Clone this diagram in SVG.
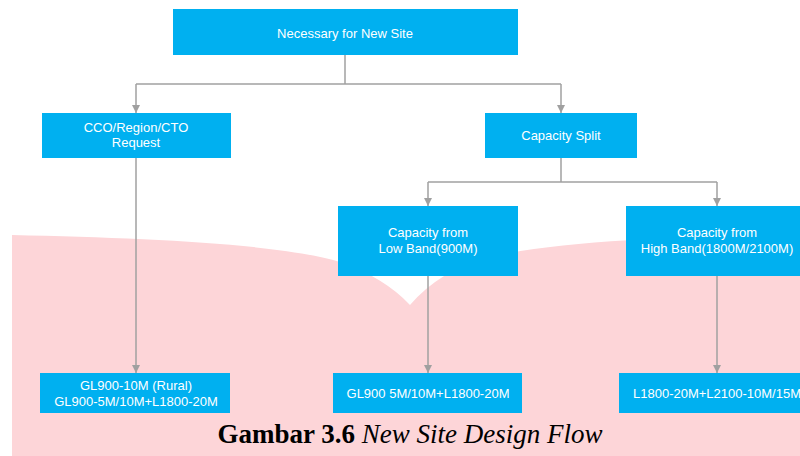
<svg xmlns="http://www.w3.org/2000/svg" width="800" height="456" viewBox="0 0 800 456">
<style>
.box{fill:#00B0F0}
.t{font-family:"Liberation Sans",Arial,sans-serif;font-size:13px;fill:#FFFFFF;text-anchor:middle}
.c{fill:none;stroke:#A0A0A0;stroke-width:1.5}
.cap{font-family:"Liberation Serif","Times New Roman",serif;font-size:27px;fill:#000000}
</style>
<defs>
<marker id="ah" viewBox="0 0 10 10" refX="10" refY="5" markerWidth="8" markerHeight="8" markerUnits="userSpaceOnUse" orient="auto">
<path d="M0,0 L10,5 L0,10 Z" fill="#A0A0A0"/>
</marker>
</defs>
<rect width="800" height="456" fill="#FFFFFF"/>
<path d="M12,235 C150,238 280,244 340,262 Q385,278 410,305 Q440,270 490,257 C560,240 700,236 800,234 L800,456 L12,456 Z" fill="#FDD5D8"/>
<g id="connectors">
<path class="c" d="M345,55 V84"/>
<path class="c" d="M136,84 H561"/>
<path class="c" d="M136,84 V113" marker-end="url(#ah)"/>
<path class="c" d="M561,84 V113" marker-end="url(#ah)"/>
<path class="c" d="M136,158 V373" marker-end="url(#ah)"/>
<path class="c" d="M561,158 V182"/>
<path class="c" d="M428,182 H717"/>
<path class="c" d="M428,182 V206" marker-end="url(#ah)"/>
<path class="c" d="M717,182 V206" marker-end="url(#ah)"/>
<path class="c" d="M428,276 V373" marker-end="url(#ah)"/>
<path class="c" d="M717,276 V373" marker-end="url(#ah)"/>
</g>
<g id="n-top">
<rect class="box" x="173" y="9" width="345" height="46"/>
<text class="t" x="345" y="38">Necessary for New Site</text>
</g>
<g id="n-cco">
<rect class="box" x="42" y="113" width="189" height="45"/>
<text class="t" x="136" y="132">CCO/Region/CTO</text>
<text class="t" x="136" y="147">Request</text>
</g>
<g id="n-split">
<rect class="box" x="485" y="113" width="152" height="45"/>
<text class="t" x="561" y="140">Capacity Split</text>
</g>
<g id="n-low">
<rect class="box" x="338" y="206" width="180" height="70"/>
<text class="t" x="428" y="237">Capacity from</text>
<text class="t" x="428" y="253">Low Band(900M)</text>
</g>
<g id="n-high">
<rect class="box" x="626" y="206" width="182" height="70"/>
<text class="t" x="717" y="237">Capacity from</text>
<text class="t" x="717" y="253">High Band(1800M/2100M)</text>
</g>
<g id="n-gl900rural">
<rect class="box" x="40" y="373" width="190" height="40"/>
<text class="t" x="136" y="390">GL900-10M (Rural)</text>
<text class="t" x="136" y="406">GL900-5M/10M+L1800-20M</text>
</g>
<g id="n-gl900">
<rect class="box" x="333" y="373" width="189" height="40"/>
<text class="t" x="428" y="398">GL900 5M/10M+L1800-20M</text>
</g>
<g id="n-l1800">
<rect class="box" x="619" y="373" width="196" height="40"/>
<text class="t" x="717" y="398">L1800-20M+L2100-10M/15M</text>
</g>
<text class="cap" x="410" y="443" text-anchor="middle"><tspan font-weight="bold">Gambar 3.6</tspan> <tspan font-style="italic">New Site Design Flow</tspan></text>
</svg>
